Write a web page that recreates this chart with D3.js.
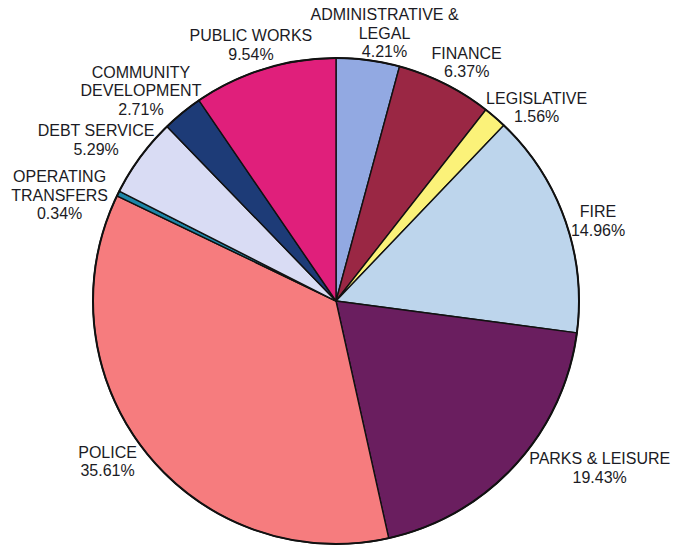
<!DOCTYPE html>
<html>
<head>
<meta charset="utf-8">
<script src="https://cdn.jsdelivr.net/npm/d3@7"></script>
<style>
  html, body { margin: 0; padding: 0; background: #fff; }
  svg { display: block; }
</style>
</head>
<body>
<svg id="chart" width="677" height="548"></svg>
<script>
// Budget share by department, clockwise from 12 o'clock
const categories = [
  ["ADMINISTRATIVE &", "LEGAL"],
  ["FINANCE"],
  ["LEGISLATIVE"],
  ["FIRE"],
  ["PARKS & LEISURE"],
  ["POLICE"],
  ["OPERATING", "TRANSFERS"],
  ["DEBT SERVICE"],
  ["COMMUNITY", "DEVELOPMENT"],
  ["PUBLIC WORKS"]
];
const shares = [4.21, 6.37, 1.56, 14.96, 19.43, 35.61, 0.34, 5.29, 2.71, 9.54];
const sliceColors = [
  "#92a9e2", "#9a2744", "#fbf279", "#bdd5ec", "#6a1e5f",
  "#f67c7e", "#1d86a8", "#d9dcf4", "#1d3b77", "#e01f7b"
];

// Label placement: distance from centre and angular nudge (degrees)
const labelLayout = [
  [272, 2.7], [272, 2.1], [279, 5.1], [274, 2.4], [312, -10.2],
  [279, 3.4], [296, -5.3], [289, -2.5], [287, -3.6], [270, -1.2]
];

const svg = d3.select("#chart");
const cx = 336, cy = 301, radius = 243;
const g = svg.append("g").attr("transform", `translate(${cx},${cy})`);

const pie = d3.pie().sort(null).value(d => d);
const arcs = pie(shares);
const arc = d3.arc().innerRadius(0).outerRadius(radius);

g.selectAll("path.slice")
  .data(arcs)
  .join("path")
  .attr("class", "slice")
  .attr("d", arc)
  .attr("fill", (d, i) => sliceColors[i])
  .attr("stroke", "#111")
  .attr("stroke-width", 1.4)
  .attr("stroke-linejoin", "round");

// outer rim
g.append("circle")
  .attr("r", radius)
  .attr("fill", "none")
  .attr("stroke", "#111")
  .attr("stroke-width", 2);

const lineH = 18.5;
const labels = g.selectAll("text.lbl")
  .data(arcs)
  .join("text")
  .attr("class", "lbl")
  .attr("text-anchor", "middle")
  .attr("font-family", "Liberation Sans, Arial, sans-serif")
  .attr("font-size", 16)
  .attr("fill", "#1b1b24")
  .each(function (d, i) {
    const [r, shift] = labelLayout[i];
    const a = (d.startAngle + d.endAngle) / 2 + shift * Math.PI / 180;
    const x = r * Math.sin(a), y = -r * Math.cos(a);
    const lines = categories[i].concat([d3.format(".2f")(shares[i]) + "%"]);
    const top = y - (lines.length - 1) * lineH / 2;
    const t = d3.select(this);
    lines.forEach((s, k) => {
      t.append("tspan")
        .attr("x", x)
        .attr("y", top + k * lineH)
        .attr("dy", "0.35em")
        .text(s);
    });
  });
</script>
</body>
</html>
